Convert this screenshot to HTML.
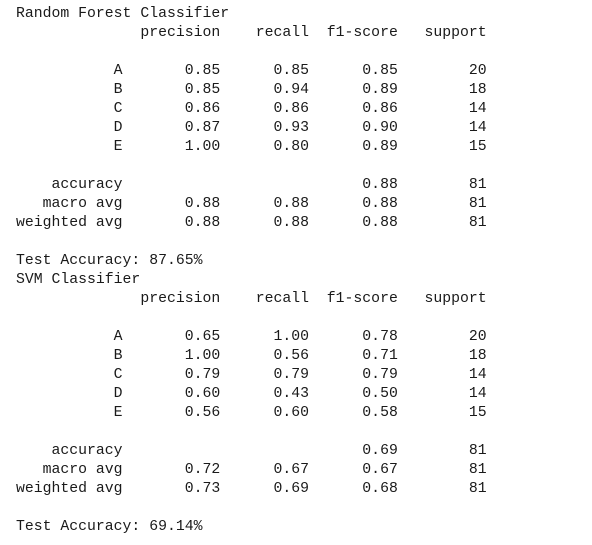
<!DOCTYPE html>
<html>
<head>
<meta charset="utf-8">
<style>
html,body{margin:0;padding:0;background:#fff;width:592px;height:545px;overflow:hidden;}
pre{position:absolute;left:16px;top:5px;margin:0;font-family:"Liberation Mono","DejaVu Sans Mono",monospace;font-size:14.8px;line-height:19px;color:#1a1a1a;}
</style>
</head>
<body>
<pre>Random Forest Classifier
              precision    recall  f1-score   support

           A       0.85      0.85      0.85        20
           B       0.85      0.94      0.89        18
           C       0.86      0.86      0.86        14
           D       0.87      0.93      0.90        14
           E       1.00      0.80      0.89        15

    accuracy                           0.88        81
   macro avg       0.88      0.88      0.88        81
weighted avg       0.88      0.88      0.88        81

Test Accuracy: 87.65%
SVM Classifier
              precision    recall  f1-score   support

           A       0.65      1.00      0.78        20
           B       1.00      0.56      0.71        18
           C       0.79      0.79      0.79        14
           D       0.60      0.43      0.50        14
           E       0.56      0.60      0.58        15

    accuracy                           0.69        81
   macro avg       0.72      0.67      0.67        81
weighted avg       0.73      0.69      0.68        81

Test Accuracy: 69.14%</pre>
</body>
</html>
